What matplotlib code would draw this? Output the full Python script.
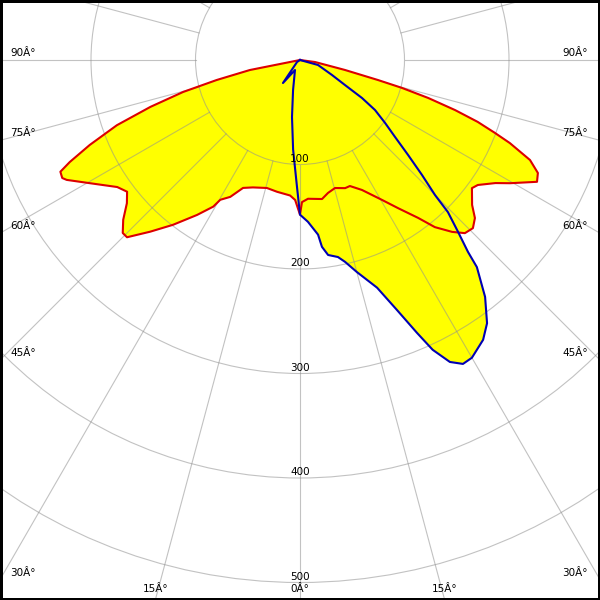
import numpy as np
import matplotlib
matplotlib.use("Agg")
import matplotlib.pyplot as plt
from matplotlib.patches import Circle, Rectangle

# C0-C180 plane (red), gamma in degrees, intensity in cd
gamma_c180 = [0, 2, 4.2, 9.9, 14.5, 20.3, 24, 27, 29.7, 30.6, 33.6, 37.6, 41.1, 44.3,
              45.7, 47.9, 50.4, 52.7, 55.2, 59.6, 62.8, 63.6, 65, 66.1, 68, 70.4,
              72.6, 74.7, 76.5, 78.7, 78.7, 90]
i_c180 = [148, 134, 130, 128, 126.5, 130, 134, 147, 154, 163, 178, 199, 218, 237,
          237, 228, 215, 208, 213, 233, 251, 254, 253, 241, 217, 186,
          150, 116, 82, 49, 10, 0]

gamma_c0 = [0, 0.8, 3.3, 9, 11.9, 15.3, 19.4, 21.6, 25.5, 30.4, 33.5, 36.8, 38.9, 41.5,
            43.6, 45.8, 47.9, 49.9, 53.3, 54.9, 57.8, 59.6, 62.8, 64.6, 66.5, 68.4,
            69.5, 70.8, 72.1, 73.5, 74.7, 75.6, 77.5, 82.4, 90]
i_c0 = [148, 136, 133, 134.7, 130, 127, 130, 129.7, 137.8, 155.3, 170, 188.7, 205.5, 219.6,
        228.8, 230.8, 225.6, 215.3, 205.2, 208, 221, 233, 255, 252, 240, 216,
        199, 180, 156, 128, 101, 77, 44, 14.5, 0]

# C90-C270 plane (blue)
gamma_c90 = [0, 2.8, 5.9, 6.7, 8.2, 10.9, 12.6, 15, 18.7, 21.2, 23.2, 24.6, 26.4, 28.2,
             30, 33.2, 35.4, 38, 40.5, 41.2, 42.6, 44.2, 45, 46.7, 48.7, 51, 53.5,
             56.3, 58.5, 60.9, 64.9, 74.5, 90]
i_c90 = [148, 155, 168, 180, 188.5, 192, 198, 210, 230, 256.6, 284, 305, 322.6, 330,
         329, 320, 309, 287.7, 260.6, 244, 223.5, 203, 182.7, 160.4, 137.6, 117, 101.3,
         86.3, 69.6, 49.3, 33.8, 17.9, 0]

gamma_c270 = [0, 1.35, 4.4, 8, 13, 26.6, 36.5, 56, 90]
i_c270 = [148, 121.6, 86, 55, 29.5, 10.7, 27.4, 3.4, 0]

rings = [100, 200, 300, 400, 500, 600]
ring_labels = ["100", "200", "300", "400", "500"]
side_angles = [90, 75, 60, 45, 30]
bottom_angles = [-15, 0, 15]


def half_xy(gamma, inten, side):
    g = np.radians(gamma)
    r = np.asarray(inten, dtype=float)
    return side * r * np.sin(g), -r * np.cos(g)


def plane_polygon(g_left, i_left, g_right, i_right):
    xl, yl = half_xy(g_left, i_left, -1)
    xr, yr = half_xy(g_right, i_right, 1)
    return np.concatenate([xl[::-1], xr]), np.concatenate([yl[::-1], yr])


fig = plt.figure(figsize=(6, 6), dpi=100)
ax = fig.add_axes([0, 0, 1, 1])
ax.set_axis_off()

px = 1.045  # pixels per cd
xmin, xmax = -300 / px, 300 / px
ymin, ymax = -540 / px, 60 / px
ax.set_xlim(xmin, xmax)
ax.set_ylim(ymin, ymax)

red_x, red_y = plane_polygon(gamma_c180, i_c180, gamma_c0, i_c0)
blue_x, blue_y = plane_polygon(gamma_c270, i_c270, gamma_c90, i_c90)

ax.fill(red_x, red_y, color="#ffff00", lw=0, zorder=1)
ax.fill(blue_x, blue_y, color="#ffff00", lw=0, zorder=1)

# grid
grid_kw = dict(color="#909090", alpha=0.55, lw=0.8, zorder=2)
for r in rings:
    ax.add_patch(Circle((0, 0), r, fill=False, **grid_kw))
for a in range(0, 360, 15):
    t = np.radians(a)
    ax.plot([100 * np.sin(t), 800 * np.sin(t)], [-100 * np.cos(t), -800 * np.cos(t)],
            **grid_kw)

ax.plot(red_x, red_y, color="#dd0000", lw=1.5, zorder=3, solid_joinstyle="round")
ax.plot(blue_x, blue_y, color="#0000b4", lw=1.5, zorder=4, solid_joinstyle="round")

fs = 7.5
for r, lab in zip(rings, ring_labels):
    ax.text(0, -r + 2.5, lab, ha="center", va="baseline", fontsize=fs, zorder=5)

for a in side_angles:
    y_edge = -abs(xmin) / np.tan(np.radians(a)) if a != 90 else 0.0
    ax.text(xmin + 10 / px, y_edge + 7 / px, f"{a}Â°", ha="left", va="center", fontsize=fs)
    ax.text(xmax - 12 / px, y_edge + 7 / px, f"{a}Â°", ha="right", va="center", fontsize=fs)

for a in bottom_angles:
    x_edge = abs(ymin) * np.tan(np.radians(a))
    ax.text(x_edge, ymin + 11 / px, f"{abs(a)}Â°", ha="center", va="center", fontsize=fs)

fig.patches.append(Rectangle((0, 0), 1, 1, transform=fig.transFigure, fill=False,
                             edgecolor="black", lw=3.6))

fig.savefig("out.png", dpi=100)
